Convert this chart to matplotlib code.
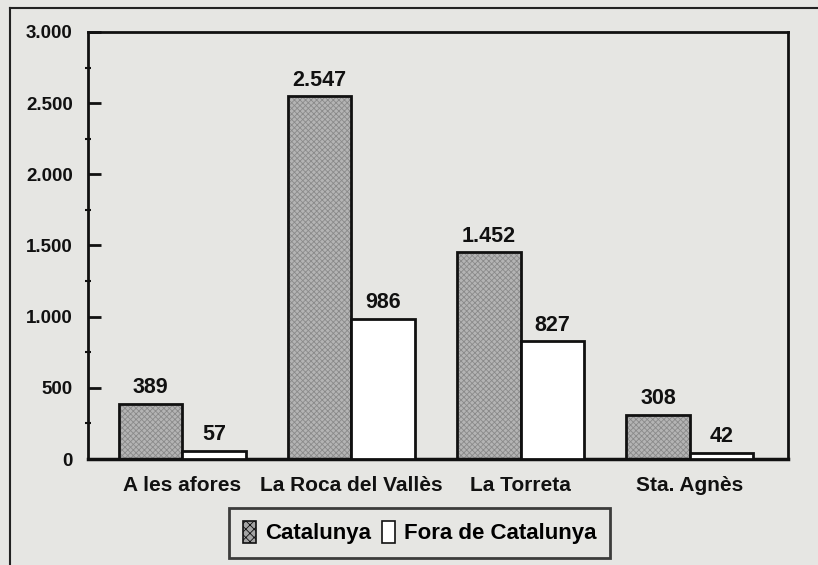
import matplotlib
matplotlib.use("Agg")
import matplotlib.pyplot as plt
import numpy as np
from matplotlib.patches import Patch
from matplotlib.lines import Line2D

categories = ["A les afores", "La Roca del Vallès", "La Torreta", "Sta. Agnès"]
catalunya = [389, 2547, 1452, 308]
fora = [57, 986, 827, 42]
series_names = ["Catalunya", "Fora de Catalunya"]
yticks = [0, 500, 1000, 1500, 2000, 2500, 3000]
ytick_labels = ["0", "500", "1.000", "1.500", "2.000", "2.500", "3.000"]
value_labels_cat = ["389", "2.547", "1.452", "308"]
value_labels_fora = ["57", "986", "827", "42"]

plt.rcParams['font.family'] = ['Liberation Sans Narrow', 'Liberation Sans', 'DejaVu Sans']
plt.rcParams['font.weight'] = 'bold'
plt.rcParams['hatch.linewidth'] = 0.6

bg = '#e6e6e3'
fig = plt.figure(figsize=(8.18, 5.65), dpi=100, facecolor=bg)
ax = fig.add_axes([0.1076, 0.1876, 0.8557, 0.7558])
ax.set_facecolor(bg)

x = np.arange(len(categories))
w = 0.375
gray = '#a4a4a4'

ax.bar(x - w/2, catalunya, width=w, facecolor='#b4b4b4', edgecolor='#8a8a8a',
       hatch='xxxxxx', linewidth=0, zorder=2)
ax.bar(x - w/2, catalunya, width=w, facecolor='none', edgecolor='#111111',
       linewidth=2, zorder=3)
ax.bar(x + w/2, fora, width=w, facecolor='white', edgecolor='#111111',
       linewidth=2, zorder=3)

for xi, v, s in zip(x - w/2, catalunya, value_labels_cat):
    ax.text(xi, v + 40, s, ha='center', va='bottom', fontsize=15.5, fontweight='bold', color='#111111')
for xi, v, s in zip(x + w/2, fora, value_labels_fora):
    ax.text(xi, v + 40, s, ha='center', va='bottom', fontsize=15.5, fontweight='bold', color='#111111')

ax.set_xlim(-0.556, 3.58)
ax.set_ylim(0, 3000)
ax.set_yticks(yticks)
ax.set_yticklabels(ytick_labels, fontsize=13.5, fontweight='bold')
ax.set_yticks(np.arange(250, 3000, 500), minor=True)
ax.tick_params(axis='y', which='major', direction='in', length=9, width=2, pad=11, colors='#111111')
ax.tick_params(axis='y', which='minor', direction='inout', length=4, width=1.5, colors='#111111')
ax.set_xticks(x)
ax.set_xticklabels(categories, fontsize=15, fontweight='bold')
ax.tick_params(axis='x', length=0, pad=12, colors='#111111')

for sp in ax.spines.values():
    sp.set_linewidth(2)
    sp.set_color('#111111')
ax.spines['bottom'].set_linewidth(2.5)

fig.add_artist(Line2D([0.012, 1.0], [0.986, 0.986], transform=fig.transFigure, color='#222222', lw=1.5))
fig.add_artist(Line2D([0.012, 0.012], [0.0, 0.986], transform=fig.transFigure, color='#222222', lw=1.5))

handles = [Patch(facecolor=gray, edgecolor='#111111', linewidth=1.2, hatch='xxxx'),
           Patch(facecolor='white', edgecolor='#111111', linewidth=1.2)]
leg = fig.legend(handles, series_names, loc='center', bbox_to_anchor=(0.513, 0.057),
                 ncol=2, frameon=True, fancybox=False,
                 handlelength=0.6, handleheight=1.1, handletextpad=0.4, columnspacing=0.5,
                 borderpad=0.6, prop={'weight': 'bold', 'size': 16})
leg.get_frame().set_edgecolor('#111111')
leg.get_frame().set_linewidth(2)
leg.get_frame().set_facecolor(bg)

fig.savefig('out.png', dpi=100, facecolor=bg)
